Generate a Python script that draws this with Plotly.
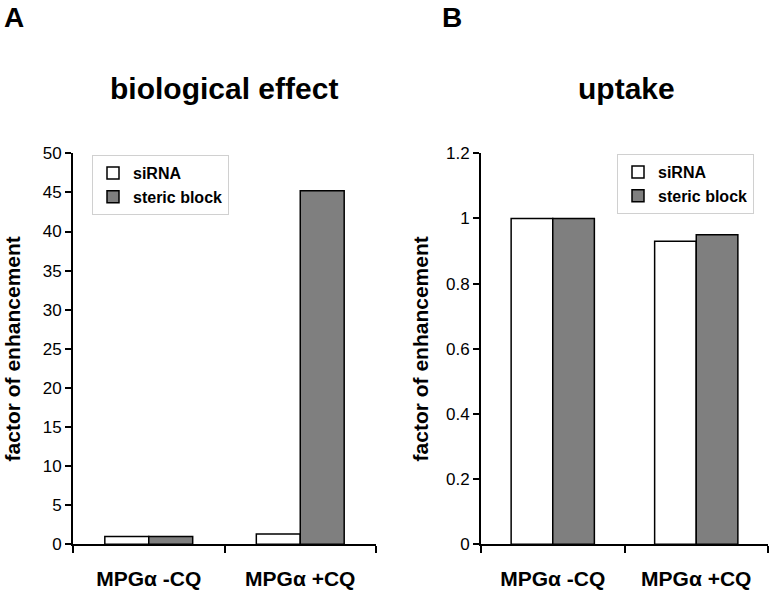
import plotly.graph_objects as go

categories = ["MPG\u03b1 -CQ", "MPG\u03b1 +CQ"]
series_names = ["siRNA", "steric block"]
bio_sirna = [1.0, 1.32]
bio_steric = [1.0, 45.2]
up_sirna = [1.0, 0.93]
up_steric = [1.0, 0.95]
bio_ticks = [0, 5, 10, 15, 20, 25, 30, 35, 40, 45, 50]
up_ticks = [0, 0.2, 0.4, 0.6, 0.8, 1, 1.2]

W, H = 772, 592
FONT = "Liberation Sans, Arial, sans-serif"
GREY = "#7f7f7f"

fig = go.Figure()
line = dict(color="black", width=1.5)
fig.add_bar(x=categories, y=bio_sirna, name=series_names[0], marker=dict(color="white", line=line),
            xaxis="x", yaxis="y", legend="legend")
fig.add_bar(x=categories, y=bio_steric, name=series_names[1], marker=dict(color=GREY, line=line),
            xaxis="x", yaxis="y", legend="legend")
fig.add_bar(x=categories, y=up_sirna, name=series_names[0], marker=dict(color="white", line=line),
            xaxis="x2", yaxis="y2", legend="legend2")
fig.add_bar(x=categories, y=up_steric, name=series_names[1], marker=dict(color=GREY, line=line),
            xaxis="x2", yaxis="y2", legend="legend2")


def px_x(p):
    return p / W


def px_y(p):
    return 1 - p / H


ydom = [px_y(544.3), px_y(153.3)]
xaxis_common = dict(showline=True, linecolor="black", linewidth=2, ticks="outside", tickson="boundaries",
                    ticklen=7, tickwidth=2, tickcolor="black", showgrid=False, zeroline=False,
                    tickfont=dict(family=FONT, size=21, color="black"), fixedrange=True,
                    tickprefix="<b>", ticksuffix="</b>", automargin=False, ticklabelstandoff=14)
yaxis_common = dict(showline=True, linecolor="black", linewidth=2, ticks="outside", ticklen=6,
                    tickwidth=2, tickcolor="black", showgrid=False, zeroline=False,
                    tickfont=dict(family=FONT, size=17, color="black"),
                    tickprefix="<b>", ticksuffix="</b>", automargin=False, fixedrange=True)


def ytitle(standoff):
    return dict(text="<b>factor of enhancement</b>", font=dict(family=FONT, size=21, color="black"),
                standoff=standoff)


legend_common = dict(xanchor="left", yanchor="top", bgcolor="white", bordercolor="#d0d0d0", borderwidth=1,
                     font=dict(family=FONT, size=16, color="black"), itemwidth=30, tracegroupgap=0)

fig.update_layout(
    template="none",
    width=W, height=H, autosize=False, margin=dict(l=0, r=0, t=0, b=0, pad=0),
    paper_bgcolor="white", plot_bgcolor="white",
    barmode="group", bargap=0.42, bargroupgap=0,
    font=dict(family=FONT, color="black"),
    xaxis=dict(domain=[px_x(73), px_x(376)], anchor="y", **xaxis_common),
    yaxis=dict(domain=ydom, anchor="x", range=[0, 50], tickvals=bio_ticks, title=ytitle(16), **yaxis_common),
    xaxis2=dict(domain=[px_x(481), px_x(768)], anchor="y2", **xaxis_common),
    yaxis2=dict(domain=ydom, anchor="x2", range=[0, 1.2], tickvals=up_ticks,
                ticktext=[("%g" % t) for t in up_ticks], title=ytitle(12), **yaxis_common),
    legend=dict(x=px_x(92), y=px_y(155), **legend_common),
    legend2=dict(x=px_x(617), y=px_y(154), **legend_common),
    annotations=[
        dict(text="<b>A</b>", x=px_x(2), y=px_y(0), xref="paper", yref="paper", xanchor="left", yanchor="top",
             showarrow=False, font=dict(family=FONT, size=28, color="black")),
        dict(text="<b>B</b>", x=px_x(440), y=px_y(0), xref="paper", yref="paper", xanchor="left", yanchor="top",
             showarrow=False, font=dict(family=FONT, size=28, color="black")),
        dict(text="<b>biological effect</b>", x=px_x(224), y=px_y(88), xref="paper", yref="paper",
             xanchor="center", yanchor="middle", showarrow=False, font=dict(family=FONT, size=30, color="black")),
        dict(text="<b>uptake</b>", x=px_x(626), y=px_y(88), xref="paper", yref="paper",
             xanchor="center", yanchor="middle", showarrow=False, font=dict(family=FONT, size=30, color="black")),
    ],
)
for tr in fig.data:
    tr.name = "<b>" + tr.name + "</b>"

fig.write_html(
    "out.html",
    config={"displayModeBar": False, "responsive": False},
    post_script="document.documentElement.style.margin='0';document.body.style.margin='0';"
                "document.body.style.overflow='hidden';",
)
